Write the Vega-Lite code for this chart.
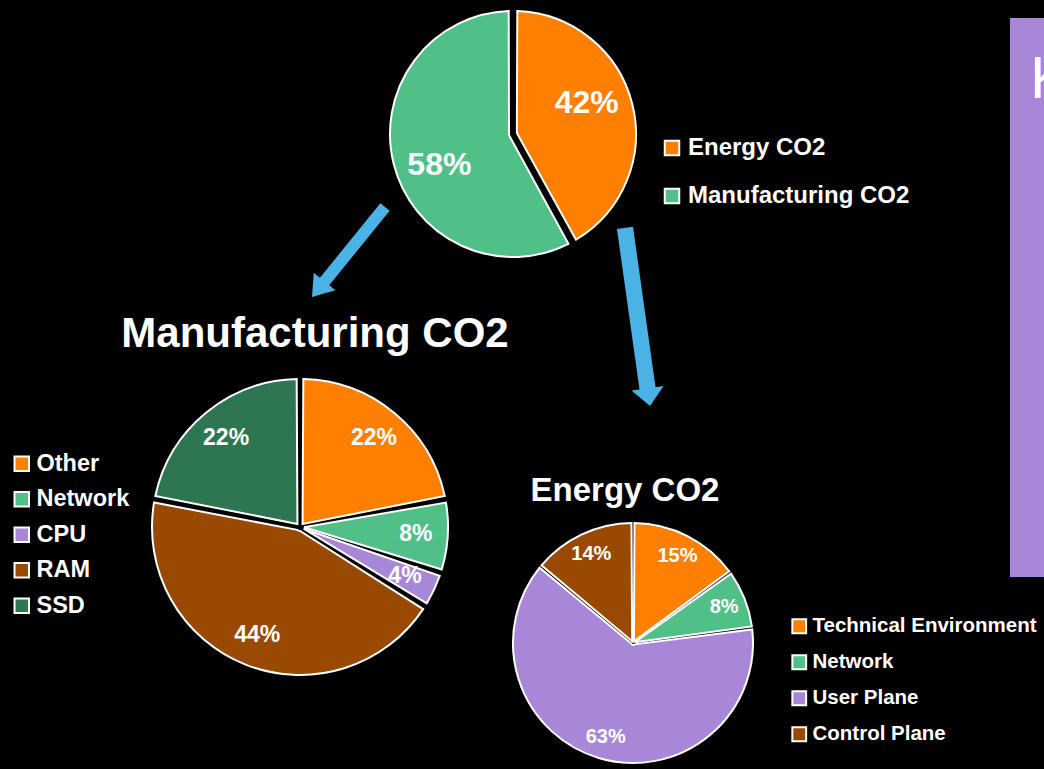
{
  "$schema": "https://vega.github.io/schema/vega-lite/v6.json",
  "background": "#000000",
  "padding": 0,
  "autosize": {"type": "pad"},
  "config": {"view": {"stroke": null}, "font": "Liberation Sans", "title": {"color": "white"}},
  "datasets": {
    "total": [
      {"part": "Energy CO2", "share": 0.42, "k": 1},
      {"part": "Manufacturing CO2", "share": 0.58, "k": 2}
    ],
    "manufacturing": [
      {"component": "Other", "share": 0.22, "k": 1},
      {"component": "Network", "share": 0.08, "k": 2},
      {"component": "CPU", "share": 0.04, "k": 3},
      {"component": "RAM", "share": 0.44, "k": 4},
      {"component": "SSD", "share": 0.22, "k": 5}
    ],
    "energy": [
      {"source": "Technical Environment", "share": 0.15, "k": 1},
      {"source": "Network", "share": 0.08, "k": 2},
      {"source": "User Plane", "share": 0.63, "k": 3},
      {"source": "Control Plane", "share": 0.14, "k": 4}
    ],
    "none": []
  },
  "columns": 6,
  "spacing": 0,
  "bounds": "flush",
  "align": "each",
  "resolve": {"scale": {"color": "independent", "theta": "independent"}},
  "concat": [
    {"width": 290, "height": 18, "data": {"name": "none"}, "mark": "point"},
    {"width": 50, "height": 18, "data": {"name": "none"}, "mark": "point"},
    {"width": 160, "height": 18, "data": {"name": "none"}, "mark": "point"},
    {"width": 120, "height": 18, "data": {"name": "none"}, "mark": "point"},
    {"width": 390, "height": 18, "data": {"name": "none"}, "mark": "point"},
    {"width": 34, "height": 18, "data": {"name": "none"}, "mark": "point"},

    {"width": 1, "height": 232, "data": {"name": "none"}, "mark": "point"},
    {"width": 1, "height": 1, "data": {"name": "none"}, "mark": "point"},
    {"width": 1, "height": 1, "data": {"name": "none"}, "mark": "point"},
    {
      "width": 26, "height": 232,
      "data": {"name": "total"},
      "encoding": {
        "theta": {"field": "share", "type": "quantitative", "stack": true},
        "order": {"field": "k", "type": "quantitative"}
      },
      "layer": [
        {
          "mark": {"type": "arc", "outerRadius": 123, "innerRadius": 4, "padAngle": 0.07, "stroke": "white", "strokeWidth": 2},
          "encoding": {
            "color": {
              "field": "part", "type": "nominal",
              "scale": {"domain": ["Energy CO2", "Manufacturing CO2"], "range": ["#FF7F00", "#50BF88"]},
              "legend": {"orient": "none", "legendX": 160, "legendY": 118, "title": null, "direction": "vertical", "symbolType": "square", "symbolSize": 210, "symbolStrokeColor": "white", "symbolStrokeWidth": 2, "symbolOpacity": 1, "labelColor": "white", "labelFontSize": 24, "labelFontWeight": "bold", "labelFont": "Liberation Sans", "labelLimit": 400, "rowPadding": 24, "labelOffset": 4, "padding": 0}
            }
          }
        },
        {
          "mark": {"type": "text", "radius": 80, "thetaOffset": -0.15, "fontSize": 32, "fontWeight": "bold", "color": "white"},
          "encoding": {
            "detail": {"field": "part", "type": "nominal"},
            "text": {"field": "share", "type": "quantitative", "format": ".0%"}
          }
        }
      ]
    },
    {"width": 1, "height": 1, "data": {"name": "none"}, "mark": "point"},
    {
      "width": 34, "height": 232,
      "data": {"values": [{"t": "K"}]},
      "layer": [
        {"mark": {"type": "point", "shape": "M -1 -6.8235 H 1 V 26.0588 H -1 Z", "size": 1156, "filled": true, "color": "#A886D9", "opacity": 1, "strokeWidth": 0}},
        {
          "mark": {"type": "text", "clip": true, "align": "left", "baseline": "alphabetic", "dx": 3, "dy": -36, "fontSize": 60, "color": "white"},
          "encoding": {"text": {"field": "t", "type": "nominal"}}
        }
      ]
    },

    {"width": 1, "height": 267, "data": {"name": "none"}, "mark": "point"},
    {"width": 1, "height": 1, "data": {"name": "none"}, "mark": "point"},
    {
      "width": 17, "height": 4,
      "data": {"values": [{"link": "Total CO2 to Manufacturing CO2"}]},
      "mark": {"type": "point", "shape": "M -0.103 -1 L 0.103 -1 L 0.103 0.655 L 0.24 0.655 L 0 1 L -0.24 0.655 L -0.103 0.655 Z", "size": 13456, "angle": 39, "filled": true, "color": "#4BB2E5", "opacity": 1, "strokeWidth": 0}
    },
    {"width": 1, "height": 1, "data": {"name": "none"}, "mark": "point"},
    {
      "width": 35, "height": 134,
      "data": {"values": [{"link": "Total CO2 to Energy CO2"}]},
      "mark": {"type": "point", "shape": "M -0.09 -1 L 0.09 -1 L 0.09 0.8 L 0.18 0.8 L 0 1 L -0.18 0.8 L -0.09 0.8 Z", "size": 32400, "angle": -8, "filled": true, "color": "#4BB2E5", "opacity": 1, "strokeWidth": 0}
    },
    {"width": 1, "height": 1, "data": {"name": "none"}, "mark": "point"},

    {"width": 1, "height": 252, "data": {"name": "none"}, "mark": "point"},
    {
      "width": 20, "height": 20,
      "title": {"text": "Manufacturing CO2", "fontSize": 42, "fontWeight": "bold", "color": "white", "anchor": "middle", "frame": "group", "offset": -14, "baseline": "alphabetic", "dx": 15},
      "data": {"name": "manufacturing"},
      "encoding": {
        "theta": {"field": "share", "type": "quantitative", "stack": true},
        "order": {"field": "k", "type": "quantitative"}
      },
      "layer": [
        {
          "mark": {"type": "arc", "outerRadius": 148, "innerRadius": 4, "padAngle": 0.045, "stroke": "white", "strokeWidth": 2},
          "encoding": {
            "color": {
              "field": "component", "type": "nominal",
              "scale": {"domain": ["Other", "Network", "CPU", "RAM", "SSD"], "range": ["#FF7F00", "#50BF88", "#A886D8", "#994900", "#2E7652"]},
              "legend": {"orient": "none", "legendX": -280, "legendY": -65, "title": null, "direction": "vertical", "symbolType": "square", "symbolSize": 210, "symbolStrokeColor": "white", "symbolStrokeWidth": 2, "symbolOpacity": 1, "labelColor": "white", "labelFontSize": 23.5, "labelFontWeight": "bold", "labelFont": "Liberation Sans", "labelLimit": 400, "rowPadding": 10.5, "labelOffset": 3, "padding": 0}
            }
          }
        },
        {
          "mark": {"type": "text", "radius": 116, "fontSize": 23, "fontWeight": "bold", "color": "white"},
          "encoding": {
            "detail": {"field": "component", "type": "nominal"},
            "text": {"field": "share", "type": "quantitative", "format": ".0%"}
          }
        }
      ]
    },
    {"width": 1, "height": 1, "data": {"name": "none"}, "mark": "point"},
    {"width": 1, "height": 1, "data": {"name": "none"}, "mark": "point"},
    {
      "width": 26, "height": 252,
      "title": {"text": "Energy CO2", "fontSize": 33, "fontWeight": "bold", "color": "white", "anchor": "middle", "frame": "group", "offset": -17, "baseline": "alphabetic", "dx": -8},
      "data": {"name": "energy"},
      "encoding": {
        "theta": {"field": "share", "type": "quantitative", "stack": true},
        "order": {"field": "k", "type": "quantitative"}
      },
      "layer": [
        {
          "mark": {"type": "arc", "outerRadius": 120, "innerRadius": 2, "padAngle": 0.025, "stroke": "white", "strokeWidth": 2},
          "encoding": {
            "color": {
              "field": "source", "type": "nominal",
              "scale": {"domain": ["Technical Environment", "Network", "User Plane", "Control Plane"], "range": ["#FF7F00", "#50BF88", "#A886D8", "#994900"]},
              "legend": {"orient": "none", "legendX": 169, "legendY": 99, "title": null, "direction": "vertical", "symbolType": "square", "symbolSize": 190, "symbolStrokeColor": "white", "symbolStrokeWidth": 2, "symbolOpacity": 1, "labelColor": "white", "labelFontSize": 20.5, "labelFontWeight": "bold", "labelFont": "Liberation Sans", "labelLimit": 400, "rowPadding": 13, "labelOffset": 3, "padding": 0}
            }
          }
        },
        {
          "mark": {"type": "text", "radius": 98, "fontSize": 20, "fontWeight": "bold", "color": "white"},
          "encoding": {
            "detail": {"field": "source", "type": "nominal"},
            "text": {"field": "share", "type": "quantitative", "format": ".0%"}
          }
        }
      ]
    },
    {"width": 1, "height": 1, "data": {"name": "none"}, "mark": "point"}
  ]
}
